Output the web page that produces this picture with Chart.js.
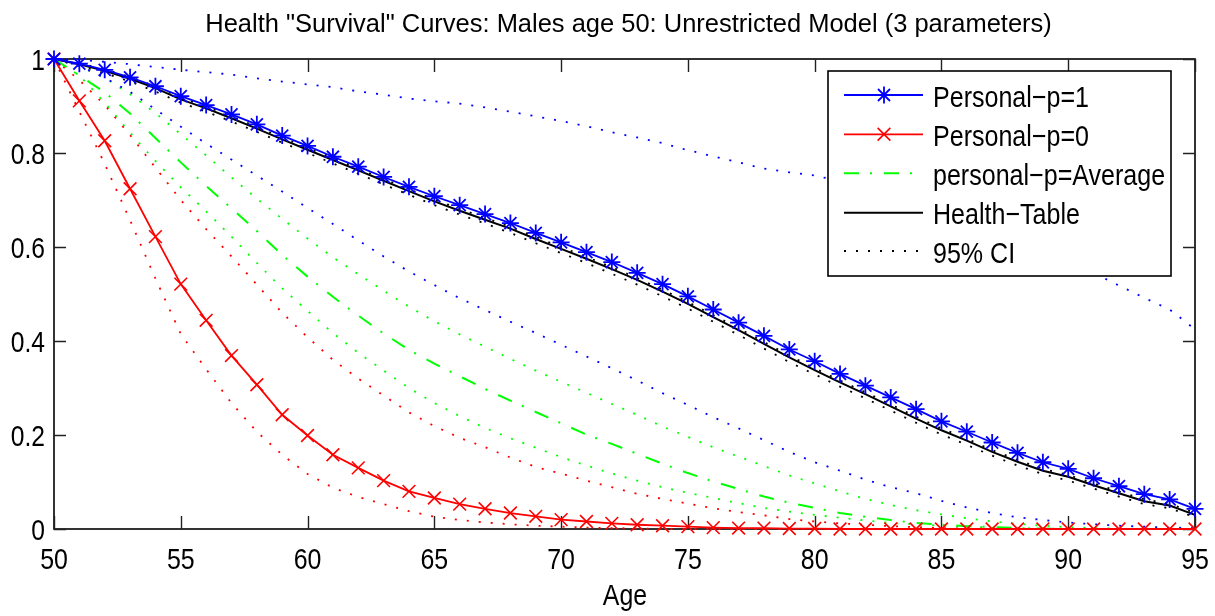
<!DOCTYPE html>
<html><head><meta charset="utf-8">
<script src="https://cdn.jsdelivr.net/npm/chart.js@4/dist/chart.umd.min.js"></script>
<style>html,body{margin:0;padding:0;background:#fff;} #wrap{width:1215px;height:616px;position:relative;}</style>
</head><body><div id="wrap"><canvas id="c"></canvas></div>
<script>
const FONT = '"Liberation Sans", Arial, Helvetica, sans-serif';
const titleText = 'Health "Survival" Curves: Males age 50: Unrestricted Model (3 parameters)';
const xAxisLabel = 'Age';
const legendLabels = ['Personal\u2212p=1', 'Personal\u2212p=0', 'personal\u2212p=Average', 'Health\u2212Table', '95% CI'];
const xTickValues = [50, 55, 60, 65, 70, 75, 80, 85, 90, 95];
const yTickValues = [0, 0.2, 0.4, 0.6, 0.8, 1];

const ages = [50,51,52,53,54,55,56,57,58,59,60,61,62,63,64,65,66,67,68,69,70,71,72,73,74,75,76,77,78,79,80,81,82,83,84,85,86,87,88,89,90,91,92,93,94,95];

const personalP1 = [1.000,0.990,0.977,0.961,0.942,0.921,0.902,0.882,0.861,0.837,
  0.815,0.792,0.771,0.749,0.728,0.708,0.689,0.670,0.651,0.630,
  0.610,0.589,0.568,0.545,0.521,0.495,0.467,0.439,0.411,0.382,
  0.357,0.330,0.305,0.280,0.255,0.229,0.207,0.184,0.162,0.142,
  0.128,0.108,0.091,0.074,0.063,0.043];

const personalP0 = [1.000,0.911,0.826,0.724,0.622,0.521,0.444,0.369,0.307,0.243,
  0.199,0.158,0.130,0.103,0.080,0.066,0.053,0.043,0.034,0.027,
  0.020,0.016,0.012,0.009,0.007,0.005,0.003,0.002,0.002,0.001,
  0.001,0.000,0.000,0.000,0.000,0.000,0.000,0.000,0.000,0.000,
  0.000,0.000,0.000,0.000,0.000,0.000];

const personalAvg = [1.000,0.965,0.929,0.884,0.832,0.780,0.730,0.682,0.634,0.583,
  0.537,0.494,0.454,0.416,0.381,0.352,0.325,0.298,0.273,0.249,
  0.225,0.201,0.181,0.160,0.139,0.119,0.101,0.085,0.069,0.056,
  0.045,0.034,0.026,0.019,0.013,0.009,0.006,0.004,0.002,0.001,
  0.000,0.000,0.000,0.000,0.000,0.000];

const healthTable = [1.000,0.989,0.975,0.958,0.938,0.914,0.895,0.874,0.852,0.829,
  0.807,0.785,0.763,0.741,0.719,0.697,0.677,0.658,0.639,0.617,
  0.596,0.575,0.553,0.530,0.505,0.479,0.451,0.423,0.394,0.365,
  0.338,0.312,0.287,0.261,0.235,0.210,0.188,0.164,0.143,0.124,
  0.111,0.093,0.076,0.059,0.050,0.030];

const healthCILow = [1.000,0.985,0.970,0.952,0.931,0.907,0.888,0.867,0.845,0.822,
  0.800,0.778,0.756,0.733,0.711,0.689,0.669,0.650,0.630,0.608,
  0.587,0.566,0.543,0.520,0.495,0.469,0.441,0.413,0.384,0.355,
  0.329,0.303,0.278,0.252,0.226,0.201,0.179,0.156,0.135,0.117,
  0.103,0.086,0.069,0.053,0.044,0.025];

const healthCIHigh = [1.000,0.991,0.978,0.962,0.942,0.918,0.899,0.878,0.856,0.833,
  0.811,0.789,0.767,0.745,0.723,0.701,0.681,0.662,0.643,0.621,
  0.600,0.579,0.557,0.534,0.509,0.483,0.455,0.427,0.398,0.369,
  0.342,0.316,0.291,0.265,0.239,0.214,0.192,0.168,0.147,0.128,
  0.115,0.097,0.080,0.063,0.054,0.034];

const p0CILow = [1.000,0.888,0.777,0.657,0.533,0.415,0.340,0.268,0.207,0.158,
  0.117,0.088,0.068,0.053,0.038,0.026,0.019,0.014,0.010,0.007,
  0.005,0.003,0.002,0.001,0.000,0.000,0.000,0.000,0.000,0.000,
  0.000,0.000,0.000,0.000,0.000,0.000,0.000,0.000,0.000,0.000,
  0.000,0.000,0.000,0.000,0.000,0.000];

const p0CIHigh = [1.000,0.955,0.902,0.838,0.769,0.700,0.638,0.580,0.520,0.460,
  0.408,0.360,0.320,0.284,0.248,0.219,0.194,0.174,0.152,0.132,
  0.118,0.103,0.089,0.075,0.064,0.054,0.044,0.036,0.029,0.021,
  0.016,0.012,0.009,0.006,0.004,0.002,0.001,0.000,0.000,0.000,
  0.000,0.000,0.000,0.000,0.000,0.000];

const avgCILow = [1.000,0.965,0.907,0.843,0.783,0.727,0.676,0.622,0.566,0.512,
  0.464,0.417,0.375,0.337,0.300,0.268,0.240,0.215,0.193,0.173,
  0.153,0.135,0.118,0.103,0.089,0.077,0.066,0.055,0.045,0.037,
  0.030,0.024,0.018,0.013,0.010,0.007,0.005,0.003,0.002,0.001,
  0.000,0.000,0.000,0.000,0.000,0.000];

const avgCIHigh = [1.000,0.985,0.960,0.925,0.885,0.840,0.795,0.748,0.703,0.660,
  0.618,0.578,0.542,0.507,0.473,0.442,0.414,0.388,0.362,0.337,
  0.313,0.290,0.266,0.243,0.218,0.196,0.174,0.154,0.134,0.114,
  0.097,0.080,0.064,0.051,0.040,0.031,0.023,0.016,0.011,0.007,
  0.004,0.002,0.001,0.000,0.000,0.000];

const p1CILow = [1.000,0.985,0.960,0.930,0.893,0.856,0.820,0.786,0.752,0.718,
  0.683,0.649,0.614,0.580,0.548,0.519,0.491,0.466,0.441,0.417,
  0.392,0.367,0.342,0.316,0.289,0.264,0.238,0.214,0.189,0.164,
  0.142,0.124,0.105,0.089,0.076,0.060,0.046,0.034,0.025,0.019,
  0.014,0.010,0.007,0.005,0.003,0.002];

const p1CIHigh = [1.000,0.998,0.994,0.989,0.983,0.977,0.972,0.967,0.959,0.952,
  0.946,0.940,0.931,0.924,0.916,0.910,0.905,0.897,0.888,0.878,
  0.868,0.857,0.844,0.833,0.821,0.806,0.793,0.780,0.767,0.759,
  0.752,0.740,0.727,0.712,0.695,0.677,0.657,0.636,0.613,0.590,
  0.566,0.545,0.518,0.492,0.467,0.425];

const BLUE = '#0000ff', RED = '#ff0000', GREEN = '#00ff00', BLACK = '#000000';
const DOT = [2, 10];
const DASHDOT = [15, 11, 2, 12];

function pts(arr) { return ages.map((a, i) => ({ x: a, y: arr[i] })); }
function ds(label, arr, color, extra) {
  return Object.assign({
    label: label, data: pts(arr), borderColor: color, backgroundColor: color,
    borderWidth: 1.8, pointRadius: 0, pointHoverRadius: 0, showLine: true,
    tension: 0, fill: false, clip: false
  }, extra || {});
}

const datasets = [
  ds(legendLabels[0], personalP1, BLUE, { pointStyle: 'star', pointRadius: 8.5, pointBorderWidth: 1.8, pointBorderColor: BLUE }),
  ds(legendLabels[1], personalP0, RED, { pointStyle: 'crossRot', pointRadius: 9, pointBorderWidth: 1.6, pointBorderColor: RED }),
  ds(legendLabels[2], personalAvg, GREEN, { borderDash: DASHDOT, borderWidth: 2 }),
  ds(legendLabels[3], healthTable, BLACK, { borderWidth: 2 }),
  ds('CI p1 high', p1CIHigh, BLUE, { borderDash: DOT, borderWidth: 1.8 }),
  ds('CI p1 low', p1CILow, BLUE, { borderDash: DOT, borderWidth: 1.8 }),
  ds('CI p0 high', p0CIHigh, RED, { borderDash: DOT, borderWidth: 1.8 }),
  ds('CI p0 low', p0CILow, RED, { borderDash: DOT, borderWidth: 1.8 }),
  ds('CI avg high', avgCIHigh, GREEN, { borderDash: DOT, borderWidth: 1.8 }),
  ds('CI avg low', avgCILow, GREEN, { borderDash: DOT, borderWidth: 1.8 }),
  ds('CI table high', healthCIHigh, BLACK, { borderDash: DOT, borderWidth: 1.8 }),
  ds('CI table low', healthCILow, BLACK, { borderDash: DOT, borderWidth: 1.8 })
];

// draw narrow (horizontally condensed) text like the original figure
function narrowText(ctx, text, x, y, size, sx, align) {
  ctx.save();
  ctx.font = size + 'px ' + FONT;
  ctx.textBaseline = 'alphabetic';
  ctx.textAlign = align;
  ctx.translate(x, y);
  ctx.scale(sx, 1);
  ctx.fillText(text, 0, 0);
  ctx.restore();
}

function drawMarker(ctx, style, r, x, y) {
  ctx.beginPath();
  const d = r * Math.SQRT1_2;
  if (style === 'star') {
    ctx.moveTo(x - r, y); ctx.lineTo(x + r, y);
    ctx.moveTo(x, y - r); ctx.lineTo(x, y + r);
  }
  ctx.moveTo(x - d, y - d); ctx.lineTo(x + d, y + d);
  ctx.moveTo(x - d, y + d); ctx.lineTo(x + d, y - d);
  ctx.stroke();
}

const axesBoxPlugin = {
  id: 'axesBox',
  beforeDatasetsDraw(chart) {
    const ctx = chart.ctx, a = chart.chartArea;
    const xs = chart.scales.x, ys = chart.scales.y;
    ctx.save();
    ctx.strokeStyle = '#000';
    ctx.lineWidth = 1.6;
    ctx.setLineDash([]);
    ctx.strokeRect(a.left, a.top, a.right - a.left, a.bottom - a.top);
    ctx.lineWidth = 1.4;
    ctx.strokeStyle = '#222';
    ctx.beginPath();
    xs.ticks.forEach(t => {
      const px = Math.round(xs.getPixelForValue(t.value)) + 0.5;
      ctx.moveTo(px, a.bottom); ctx.lineTo(px, a.bottom - 13);
      ctx.moveTo(px, a.top); ctx.lineTo(px, a.top + 13);
    });
    ys.ticks.forEach(t => {
      const py = Math.round(ys.getPixelForValue(t.value)) + 0.5;
      ctx.moveTo(a.left, py); ctx.lineTo(a.left + 12, py);
      ctx.moveTo(a.right, py); ctx.lineTo(a.right - 12, py);
    });
    ctx.stroke();
    ctx.restore();
  },
  afterDraw(chart) {
    const ctx = chart.ctx, a = chart.chartArea;
    const xs = chart.scales.x, ys = chart.scales.y;
    ctx.save();
    ctx.fillStyle = '#000';
    xs.ticks.forEach(t => {
      narrowText(ctx, String(t.value), xs.getPixelForValue(t.value), a.bottom + 39.5, 30, 0.83, 'center');
    });
    ys.ticks.forEach(t => {
      narrowText(ctx, String(t.value), a.left - 9, ys.getPixelForValue(t.value) + 11, 30, 0.82, 'right');
    });
    narrowText(ctx, titleText, 628.5, 32, 26, 0.98, 'center');
    narrowText(ctx, xAxisLabel, 625, 605, 30, 0.83, 'center');
    ctx.restore();
  }
};

const legendPlugin = {
  id: 'matlabLegend',
  afterDatasetsDraw(chart) {
    const ctx = chart.ctx;
    const box = { l: 828, t: 71, r: 1171, b: 276 };
    ctx.save();
    ctx.fillStyle = '#fff';
    ctx.fillRect(box.l, box.t, box.r - box.l, box.b - box.t);
    ctx.strokeStyle = '#000';
    ctx.lineWidth = 1.6;
    ctx.setLineDash([]);
    ctx.strokeRect(box.l, box.t, box.r - box.l, box.b - box.t);
    const rows = [95, 134.3, 173.3, 212.7, 251];
    const entries = [
      { ds: datasets[0], label: legendLabels[0] },
      { ds: datasets[1], label: legendLabels[1] },
      { ds: datasets[2], label: legendLabels[2] },
      { ds: datasets[3], label: legendLabels[3] },
      { ds: datasets[11], label: legendLabels[4] }
    ];
    entries.forEach((e, i) => {
      const y = rows[i];
      ctx.strokeStyle = e.ds.borderColor;
      ctx.lineWidth = e.ds.borderWidth;
      ctx.setLineDash(e.ds.borderDash || []);
      ctx.beginPath(); ctx.moveTo(844, y); ctx.lineTo(923, y); ctx.stroke();
      ctx.setLineDash([]);
      if (e.ds.pointRadius > 0) {
        ctx.lineWidth = e.ds.pointBorderWidth;
        drawMarker(ctx, e.ds.pointStyle, e.ds.pointRadius, 884, y);
      }
      ctx.fillStyle = '#000';
      narrowText(ctx, e.label, 933, y + 11.5, 30, 0.835, 'left');
    });
    ctx.restore();
  }
};

new Chart(document.getElementById('c'), {
  type: 'scatter',
  data: { datasets: datasets },
  options: {
    responsive: true,
    maintainAspectRatio: false,
    animation: false,
    events: [],
    layout: { padding: { top: 59, right: 20, left: 0, bottom: 0 } },
    plugins: { legend: { display: false }, tooltip: { enabled: false }, title: { display: false } },
    scales: {
      x: {
        type: 'linear', min: 50, max: 95,
        afterBuildTicks: s => { s.ticks = xTickValues.map(v => ({ value: v })); },
        afterFit: s => { s.height = 87; },
        grid: { display: false, drawTicks: false },
        border: { display: false },
        ticks: { display: false, autoSkip: false }
      },
      y: {
        type: 'linear', min: 0, max: 1,
        afterBuildTicks: s => { s.ticks = yTickValues.map(v => ({ value: v })); },
        afterFit: s => { s.width = 54; },
        grid: { display: false, drawTicks: false },
        border: { display: false },
        ticks: { display: false, autoSkip: false }
      }
    }
  },
  plugins: [axesBoxPlugin, legendPlugin]
});
</script>
</body></html>
